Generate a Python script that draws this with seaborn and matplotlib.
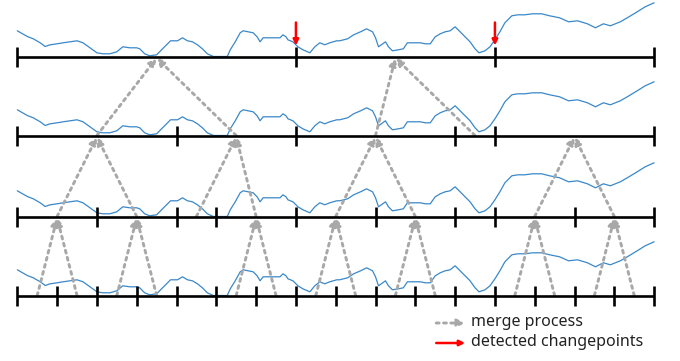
import numpy as np
import matplotlib
matplotlib.use("Agg")
import matplotlib.pyplot as plt
import seaborn as sns

sns.set_theme(style="white")
plt.rcParams['font.family'] = ['Noto Sans', 'DejaVu Sans']

# ---- data ----
# time index of the signal (40 samples per base segment) and signal level
signal_t = [0, 10, 16, 23, 28, 33, 40, 46, 53, 60, 66, 73, 80, 86, 93, 100, 106, 113, 120, 123,
            128, 133, 140, 147, 154, 161, 166, 171, 176, 181, 186, 191, 197, 204, 211, 214, 219,
            224, 227, 232, 237, 241, 244, 247, 251, 257, 264, 267, 270, 272, 277, 282, 287, 294,
            299, 304, 309, 314, 321, 324, 332, 338, 345, 351, 357, 360, 363, 370, 373, 377, 383,
            388, 392, 398, 405, 410, 415, 420, 425, 430, 435, 440, 445, 450, 455, 460, 464, 470,
            475, 480, 485, 490, 497, 503, 510, 518, 527, 535, 545, 554, 563, 573, 581, 589, 596,
            606, 613, 623, 631, 640]
signal_v = [25.7, 20, 17.7, 13.7, 10, 11.7, 12.7, 13.7, 14.7, 15.7, 13.7, 8.7, 3.7, 2.7, 2.7, 4.7,
            9.7, 8.7, 8.7, 7.7, 2.7, 0.7, 1.7, 8.7, 15.7, 15.7, 18.7, 15.7, 14.7, 11.7, 7.7, 2.7,
            0, 0, 0, 6.7, 14.7, 23.7, 25.7, 24.7, 23.7, 19.7, 14.7, 18.7, 18.7, 18.7, 18.7, 21.7,
            19.7, 16.7, 14.7, 9.7, 6.7, 3.7, 9.7, 13.7, 11.7, 13.7, 15.7, 15.7, 17.7, 21.7, 24.7,
            27.7, 24.7, 18.7, 9.7, 14.7, 9.7, 5.7, 6.7, 7.7, 13.7, 13.7, 13.7, 12.7, 12.7, 19.7,
            22.7, 24.7, 25.7, 29.7, 24.7, 19.7, 14.7, 7.7, 3.7, 5.7, 9.7, 16.7, 24.7, 33.7, 40.7,
            41.7, 41.7, 42.7, 42.7, 40.7, 38.7, 34.7, 35.7, 32.7, 28.7, 32.7, 30.7, 34.7, 38.7,
            44.7, 49.7, 53.7]

# segment boundaries (in units of base segments) for each level, top to bottom
level_bounds = [
    [0, 7, 12, 16],
    [0, 4, 7, 11, 12, 16],
    [0, 2, 4, 5, 7, 9, 11, 12, 14, 16],
    list(range(17)),
]
changepoints = [7, 12]
legend_labels = ["merge process", "detected changepoints"]

# ---- layout ----
SEG = 40                      # samples per base segment
row_base = [56.5, 135.5, 216.5, 295.5]
tick_half = 10
gray = "#a8a8a8"
blue = "#3b88c9"

fig = plt.figure(figsize=(6.8, 3.61), dpi=100)
ax = fig.add_axes([0, 0, 1, 1])
ax.set_xlim(-17.4, 666)
ax.set_ylim(361, 0)
ax.axis("off")

t = np.array(signal_t, dtype=float)
v = np.array(signal_v, dtype=float)

for r, base in enumerate(row_base):
    sns.lineplot(x=t, y=base - v, ax=ax, color=blue, lw=0.9, zorder=2, sort=False,
                 estimator=None)
    b = level_bounds[r]
    ax.hlines(base, b[0] * SEG, b[-1] * SEG, color="black", lw=1.9, zorder=4)
    ax.vlines([k * SEG for k in b], base - tick_half, base + tick_half,
              color="black", lw=1.9, zorder=4)

# merge arrows: from children (lower row) to parent (upper row)
arrow_kw = dict(arrowstyle="-|>", color=gray, lw=2.1, linestyle=(0, (1, 1.5)),
                shrinkA=0, shrinkB=0, mutation_scale=11)
for r in range(len(row_base) - 1):
    parents = level_bounds[r]
    children = level_bounds[r + 1]
    for a, b in zip(parents[:-1], parents[1:]):
        kids = [(c0, c1) for c0, c1 in zip(children[:-1], children[1:]) if c0 >= a and c1 <= b]
        if len(kids) < 2:
            continue
        pm = (a + b) / 2 * SEG
        for c0, c1 in kids:
            cm = (c0 + c1) / 2 * SEG
            ax.annotate("", xy=(pm, row_base[r] + 1.5), xytext=(cm, row_base[r + 1]),
                        arrowprops=arrow_kw, zorder=3)

# detected changepoints
for cp in changepoints:
    ax.annotate("", xy=(cp * SEG, row_base[0] - 11), xytext=(cp * SEG, row_base[0] - 34),
                arrowprops=dict(arrowstyle="-|>", color="red", lw=1.8, shrinkA=0, shrinkB=0,
                                mutation_scale=8), zorder=5)

# legend
lx0, lx1 = 421, 450
ax.annotate("", xy=(lx1, 323), xytext=(lx0, 323), arrowprops=arrow_kw)
ax.annotate("", xy=(lx1, 343), xytext=(lx0, 343),
            arrowprops=dict(arrowstyle="-|>", color="red", lw=1.8, shrinkA=0, shrinkB=0,
                            mutation_scale=8))
for y, lab in zip([322, 342], legend_labels):
    ax.text(456, y, lab, fontsize=11.5, color="#222222", va="center", ha="left")

fig.savefig("out.png", dpi=100)
